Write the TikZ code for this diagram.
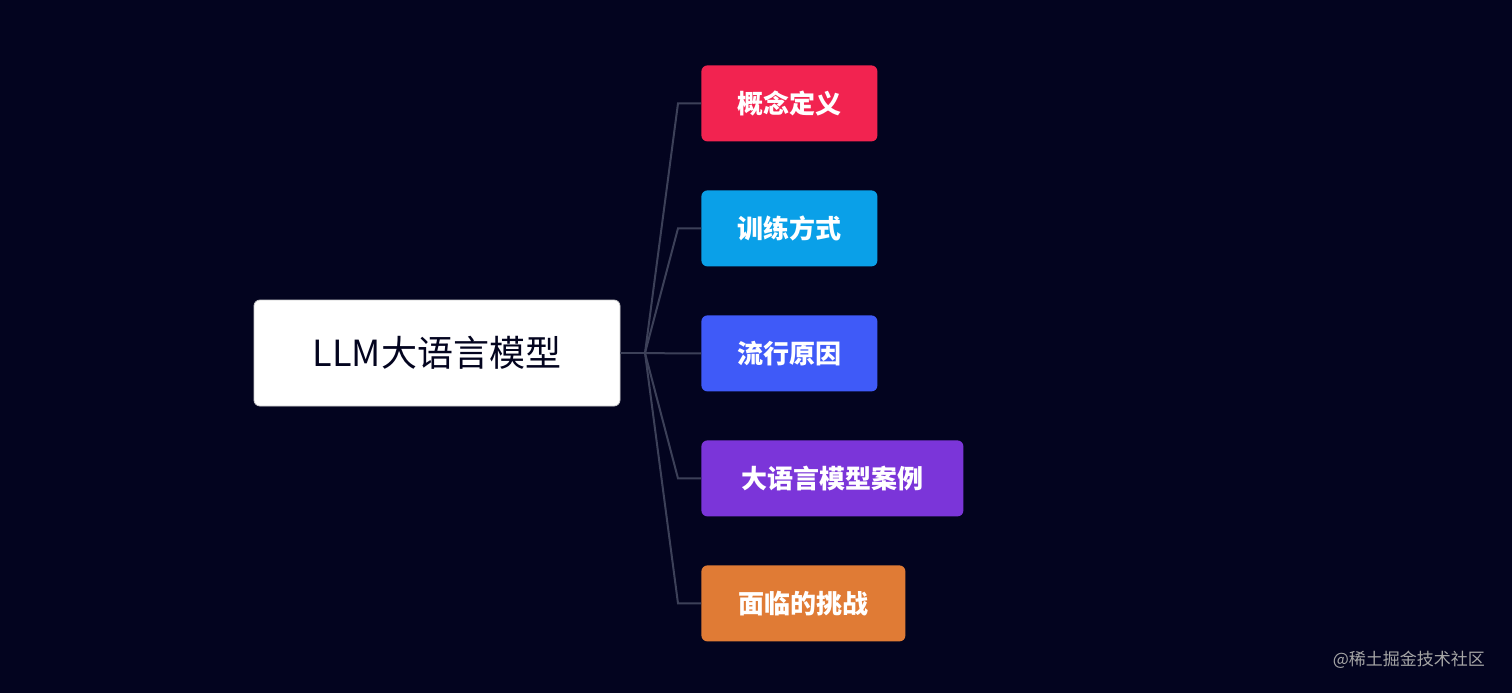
\documentclass[tikz,border=0pt]{standalone}
\usepackage{fontspec}
\usetikzlibrary{calc}
\setmainfont{Noto Sans CJK SC}
\definecolor{bg}{HTML}{03041F}
\definecolor{ln}{HTML}{3C4058}
\definecolor{c1}{HTML}{F22350}
\definecolor{c2}{HTML}{0AA0E8}
\definecolor{c3}{HTML}{3F5AF8}
\definecolor{c4}{HTML}{7B35D9}
\definecolor{c5}{HTML}{E07B35}
\begin{document}
\begin{tikzpicture}[x=0.5pt,y=-0.5pt,
  child/.style={rounded corners=3pt,text=white,font=\fontsize{13}{15}\selectfont\bfseries,anchor=north west,minimum height=38pt,inner xsep=15.5pt},
  conn/.style={draw=ln,line width=1pt}]
\fill[bg] (0,0) rectangle (1512,693);
\useasboundingbox (0,0) rectangle (1512,693);
\node[fill=white,draw=gray!40,rounded corners=3pt,minimum width=183pt,minimum height=53pt,font=\fontsize{18}{20}\selectfont,text=bg] (root) at (437,353) {LLM大语言模型};
\node[child,fill=c1,minimum width=88pt] (a) at (701,65) {概念定义};
\node[child,fill=c2,minimum width=88pt] (b) at (701,190) {训练方式};
\node[child,fill=c3,minimum width=88pt] (c) at (701,315) {流行原因};
\node[child,fill=c4,minimum width=131pt] (d) at (701,440) {大语言模型案例};
\node[child,fill=c5,minimum width=102pt] (e) at (701,565) {面临的挑战};
\coordinate (h) at (645,353);
\draw[conn] (root.east) -- (h);
\foreach \n in {a,b,c,d,e}{
  \draw[conn] (h) -- ($(\n.west)+(-23,0)$) -- (\n.west);
}
\node[anchor=east,text=gray!70,font=\fontsize{8.5}{10}\selectfont] (wm) at (1492,660) {@稀土掘金技术社区};
\end{tikzpicture}
\end{document}
